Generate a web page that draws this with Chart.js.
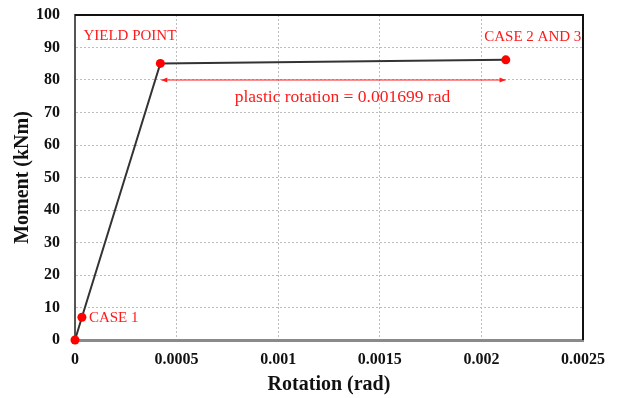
<!DOCTYPE html>
<html>
<head>
<meta charset="utf-8">
<script src="https://cdn.jsdelivr.net/npm/chart.js@4/dist/chart.umd.min.js"></script>
<style>
  html, body { margin: 0; padding: 0; background: #fff; }
  #wrap { width: 620px; height: 398px; position: relative; }
</style>
</head>
<body>
<div id="wrap"><canvas id="c"></canvas></div>
<script>
// ---- data ----
const rotation = [0, 0.000034, 0.00042, 0.00212];
const moment = [0, 7, 85.1, 86.2];
const pointLabels = ['', 'CASE 1', 'YIELD POINT', 'CASE 2 AND 3'];
const plasticRotation = 0.001699;
const arrowMoment = 80;
const xTicks = [0, 0.0005, 0.001, 0.0015, 0.002, 0.0025];
const yTicks = [0, 10, 20, 30, 40, 50, 60, 70, 80, 90, 100];

const RED = '#ff1a1a';
const labelFont = '15px "Liberation Serif", serif';

const annotPlugin = {
  id: 'annot',
  afterDatasetsDraw(chart) {
    const ctx = chart.ctx;
    const xs = chart.scales.x, ys = chart.scales.y;
    const ca = chart.chartArea;
    ctx.save();
    // frame top/right
    ctx.strokeStyle = '#111';
    ctx.lineWidth = 2;
    ctx.beginPath();
    ctx.moveTo(ca.left, ca.top);
    ctx.lineTo(ca.right, ca.top);
    ctx.lineTo(ca.right, ca.bottom);
    ctx.stroke();

    // point labels
    ctx.fillStyle = RED;
    ctx.font = labelFont;
    ctx.textBaseline = 'middle';
    const offs = {
      1: {dx: 7, dy: 1, align: 'left'},
      2: {dx: 16, dy: -27, align: 'right'},
      3: {dx: 27, dy: -23, align: 'center'}
    };
    pointLabels.forEach((t, i) => {
      if (!t) return;
      const px = xs.getPixelForValue(rotation[i]);
      const py = ys.getPixelForValue(moment[i]);
      const o = offs[i];
      ctx.textAlign = o.align;
      ctx.fillText(t, px + o.dx, py + o.dy);
    });

    // plastic rotation arrow
    const x1 = xs.getPixelForValue(rotation[2]) + 1;
    const x2 = xs.getPixelForValue(rotation[2] + plasticRotation);
    const ay = ys.getPixelForValue(arrowMoment);
    ctx.strokeStyle = RED;
    ctx.lineWidth = 1;
    ctx.beginPath();
    ctx.moveTo(x1, ay);
    ctx.lineTo(x2, ay);
    ctx.stroke();
    ctx.beginPath();
    ctx.moveTo(x1, ay); ctx.lineTo(x1 + 6, ay - 2.5); ctx.lineTo(x1 + 6, ay + 2.5); ctx.closePath();
    ctx.moveTo(x2, ay); ctx.lineTo(x2 - 6, ay - 2.5); ctx.lineTo(x2 - 6, ay + 2.5); ctx.closePath();
    ctx.fill();
    ctx.textAlign = 'center';
    ctx.font = '17.5px "Liberation Serif", serif';
    ctx.fillText('plastic rotation = ' + plasticRotation + ' rad', (x1 + x2) / 2 + 9, ay + 17);
    ctx.restore();
  }
};

new Chart(document.getElementById('c'), {
  type: 'scatter',
  data: {
    datasets: [{
      data: rotation.map((r, i) => ({x: r, y: moment[i]})),
      showLine: true,
      clip: false,
      borderColor: '#333',
      borderWidth: 2,
      pointRadius: 4.5,
      pointHoverRadius: 4.5,
      pointBackgroundColor: '#ff0000',
      pointBorderWidth: 0,
      tension: 0
    }]
  },
  options: {
    responsive: true,
    maintainAspectRatio: false,
    animation: false,
    events: [],
    layout: { padding: { left: 0, top: 15, right: 37, bottom: 0 } },
    plugins: { legend: { display: false }, tooltip: { enabled: false } },
    scales: {
      x: {
        type: 'linear',
        min: 0, max: 0.0025,
        afterBuildTicks: s => { s.ticks = xTicks.map(v => ({value: v})); },
        afterFit: s => { s.height = 58; s.paddingLeft = 0; s.paddingRight = 0; },
        ticks: {
          padding: 10,
          color: '#111',
          font: { family: '"Liberation Serif", serif', size: 16, weight: 'bold' },
          callback: v => String(parseFloat(Number(v).toFixed(5)))
        },
        grid: { color: '#bdbdbd', lineWidth: 1, drawTicks: false },
        border: { color: '#8a8a8a', width: 3, dash: [2, 2] },
        title: {
          display: true, text: 'Rotation (rad)', color: '#111',
          font: { family: '"Liberation Serif", serif', size: 20, weight: 'bold' },
          padding: { top: 0, bottom: 1 }
        }
      },
      y: {
        type: 'linear',
        min: 0, max: 100,
        afterBuildTicks: s => { s.ticks = yTicks.map(v => ({value: v})); },
        afterFit: s => { s.width = 75; s.paddingTop = 0; s.paddingBottom = 0; },
        ticks: {
          padding: 15,
          color: '#111',
          font: { family: '"Liberation Serif", serif', size: 16, weight: 'bold' }
        },
        grid: { color: '#bdbdbd', lineWidth: 1, drawTicks: false },
        border: { color: '#555', width: 2, dash: [2, 2] },
        title: {
          display: true, text: 'Moment (kNm)', color: '#111',
          font: { family: '"Liberation Serif", serif', size: 20, weight: 'bold' },
          padding: { top: 11, bottom: 0 }
        }
      }
    }
  },
  plugins: [annotPlugin]
});
</script>
</body>
</html>
